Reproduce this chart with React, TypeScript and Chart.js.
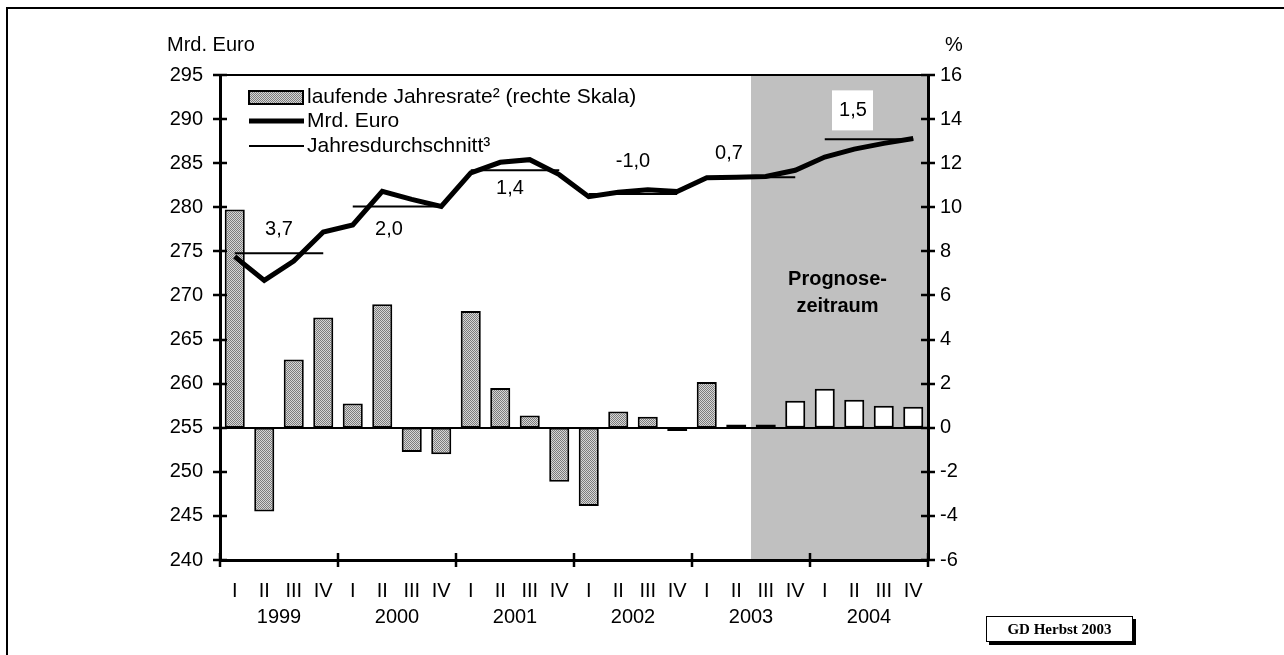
import React, { useEffect, useRef } from 'react';
import { Chart, registerables } from 'chart.js';

Chart.register(...registerables);

// ---------- data ----------
const years = ['1999', '2000', '2001', '2002', '2003', '2004'];
const quarters = ['I', 'II', 'III', 'IV'];
const categories = years.flatMap((y) => quarters.map((q) => `${q} ${y}`));
const quarterLabels = years.flatMap(() => quarters);

// laufende Jahresrate (%), right scale
const jahresrate = [
  9.9, -3.8, 3.1, 5.0,
  1.1, 5.6, -1.1, -1.2,
  5.3, 1.8, 0.55, -2.45,
  -3.55, 0.74, 0.5, -0.15,
  2.07, 0.15, 0.15, 1.22,
  1.77, 1.27, 1.0, 0.95,
];

// Mrd. Euro, left scale
const mrdEuro = [
  274.4, 271.7, 273.9, 277.2,
  278.0, 281.8, 280.9, 280.1,
  283.9, 285.1, 285.4, 283.7,
  281.2, 281.7, 282.0, 281.8,
  283.35, 283.4, 283.5, 284.2,
  285.7, 286.6, 287.25, 287.8,
];

// Jahresdurchschnitt (Mrd. Euro) per year
const jahresdurchschnitt = [274.8, 280.1, 284.2, 281.5, 283.4, 287.7];
// year-over-year change labels
const veraenderung = ['3,7', '2,0', '1,4', '-1,0', '0,7', '1,5'];

const leftTicks = { min: 240, max: 295, step: 5 };
const rightTicks = { min: -6, max: 16, step: 2 };

const forecastStart = categories.indexOf('III 2003');

const legendLabels = ['laufende Jahresrate² (rechte Skala)', 'Mrd. Euro', 'Jahresdurchschnitt³'];

// ---------- layout / style (not data) ----------
const FONT = "'Liberation Sans', Arial, sans-serif";
const labelOffsets = [
  [0, -24],
  [-8, 23],
  [-5, 18],
  [0, -33],
  [-22, -24],
  [-16, -29],
];

function makePattern(ctx: CanvasRenderingContext2D) {
  const c = document.createElement('canvas');
  c.width = 2;
  c.height = 2;
  const p = c.getContext('2d')!;
  p.fillStyle = '#d6d6d6';
  p.fillRect(0, 0, 2, 2);
  p.fillStyle = '#7c7c7c';
  p.fillRect(0, 0, 1, 1);
  p.fillRect(1, 1, 1, 1);
  return ctx.createPattern(c, 'repeat')!;
}

export default function App() {
  const ref = useRef<HTMLCanvasElement | null>(null);

  useEffect(() => {
    const canvas = ref.current!;
    const ctx0 = canvas.getContext('2d')!;
    const pattern = makePattern(ctx0);

    Chart.defaults.font.family = FONT;
    Chart.defaults.font.size = 20;
    Chart.defaults.color = '#000';

    const overlay = {
      id: 'overlay',
      beforeDraw(chart: any) {
        const { ctx, chartArea: ca, scales } = chart;
        const cw = (ca.right - ca.left) / categories.length;
        const sx = scales.x.getPixelForValue(forecastStart) - cw / 2;
        ctx.save();
        ctx.fillStyle = '#c0c0c0';
        ctx.fillRect(sx, ca.top, ca.right - sx, ca.bottom - ca.top);
        ctx.restore();
      },
      afterDatasetsDraw(chart: any) {
        const { ctx, chartArea: ca, scales } = chart;
        const y1 = scales.y1;
        const y = scales.y;
        const cw = (ca.right - ca.left) / categories.length;
        ctx.save();
        // zero line
        const zy = Math.round(y1.getPixelForValue(0));
        ctx.strokeStyle = '#000';
        ctx.lineWidth = 2;
        ctx.beginPath();
        ctx.moveTo(ca.left, zy);
        ctx.lineTo(ca.right, zy);
        ctx.stroke();

        // annual change labels
        ctx.font = `20px ${FONT}`;
        ctx.textAlign = 'center';
        ctx.textBaseline = 'middle';
        veraenderung.forEach((t, k) => {
          const cx = ca.left + (4 * k + 2) * cw + labelOffsets[k][0];
          const cy = y.getPixelForValue(jahresdurchschnitt[k]) + labelOffsets[k][1];
          if (k >= Math.floor(forecastStart / 4) + 1) {
            ctx.fillStyle = '#fff';
            ctx.fillRect(cx - 21, cy - 20, 41, 40);
          }
          ctx.fillStyle = '#000';
          ctx.fillText(t, cx, cy);
        });

        // Prognosezeitraum
        const fx = (scales.x.getPixelForValue(forecastStart) - cw / 2 + ca.right) / 2 - 2;
        ctx.font = `bold 20px ${FONT}`;
        ctx.fillText('Prognose-', fx, 279);
        ctx.fillText('zeitraum', fx, 306);

        // legend
        const lx = ca.left + 29;
        const lw = 54;
        const rows = [97, 121, 146];
        ctx.fillStyle = pattern;
        ctx.fillRect(lx, rows[0] - 6, lw, 13);
        ctx.lineWidth = 2;
        ctx.strokeRect(lx, rows[0] - 6, lw, 13);
        ctx.lineWidth = 5;
        ctx.beginPath();
        ctx.moveTo(lx, rows[1]);
        ctx.lineTo(lx + lw + 1, rows[1]);
        ctx.stroke();
        ctx.lineWidth = 2;
        ctx.beginPath();
        ctx.moveTo(lx, rows[2]);
        ctx.lineTo(lx + lw + 1, rows[2]);
        ctx.stroke();
        ctx.fillStyle = '#000';
        ctx.font = `21px ${FONT}`;
        ctx.textAlign = 'left';
        legendLabels.forEach((t, i) => ctx.fillText(t, lx + lw + 4, rows[i]));
        ctx.restore();
      },
      afterDraw(chart: any) {
        const { ctx, chartArea: ca, scales } = chart;
        const cw = (ca.right - ca.left) / categories.length;
        ctx.save();
        ctx.strokeStyle = '#000';
        // top border of plot
        ctx.lineWidth = 2;
        ctx.beginPath();
        ctx.moveTo(ca.left, ca.top);
        ctx.lineTo(ca.right, ca.top);
        ctx.stroke();
        // cross ticks
        ctx.lineWidth = 2.5;
        ctx.beginPath();
        scales.y.ticks.forEach((t: any) => {
          const py = Math.round(scales.y.getPixelForValue(t.value));
          ctx.moveTo(ca.left - 7, py);
          ctx.lineTo(ca.left + 7, py);
        });
        scales.y1.ticks.forEach((t: any) => {
          const py = Math.round(scales.y1.getPixelForValue(t.value));
          ctx.moveTo(ca.right - 7, py);
          ctx.lineTo(ca.right + 7, py);
        });
        for (let i = 0; i <= categories.length; i += 4) {
          const px = Math.round(ca.left + i * cw);
          ctx.moveTo(px, ca.bottom - 7);
          ctx.lineTo(px, ca.bottom + 7);
        }
        ctx.stroke();
        // year labels
        ctx.fillStyle = '#000';
        ctx.font = `20px ${FONT}`;
        ctx.textAlign = 'center';
        ctx.textBaseline = 'middle';
        years.forEach((yr, k) => {
          ctx.fillText(yr, ca.left + (4 * k + 2) * cw, 617);
        });
        // axis titles
        ctx.textAlign = 'left';
        ctx.fillText('Mrd. Euro', 167, 45);
        ctx.fillText('%', 945, 45);
        ctx.restore();
      },
    };

    const avgDatasets = years.map((yr, k) => ({
      type: 'line' as const,
      label: `Jahresdurchschnitt ${yr}`,
      data: categories.map((_, i) => (Math.floor(i / 4) === k ? jahresdurchschnitt[k] : null)),
      yAxisID: 'y',
      borderColor: '#000',
      borderWidth: 2,
      pointRadius: 0,
      tension: 0,
      order: 1,
    }));

    const chart = new Chart(canvas, {
      type: 'bar',
      data: {
        labels: quarterLabels,
        datasets: [
          {
            type: 'line',
            label: 'Mrd. Euro',
            data: mrdEuro,
            yAxisID: 'y',
            borderColor: '#000',
            borderWidth: 5,
            pointRadius: 0,
            tension: 0,
            order: 0,
          } as any,
          ...avgDatasets,
          {
            type: 'bar',
            label: legendLabels[0],
            data: jahresrate,
            yAxisID: 'y1',
            backgroundColor: (c: any) => (c.dataIndex >= forecastStart ? '#ffffff' : pattern),
            borderColor: '#000',
            borderWidth: 2,
            borderSkipped: false,
            barPercentage: 0.68,
            categoryPercentage: 1,
            order: 2,
          } as any,
        ],
      },
      options: {
        responsive: false,
        maintainAspectRatio: false,
        animation: false,
        events: [],
        layout: { padding: { top: 75, left: 0, right: 0, bottom: 0 } },
        plugins: { legend: { display: false }, tooltip: { enabled: false }, title: { display: false } },
        scales: {
          x: {
            type: 'category',
            grid: { display: false, drawTicks: false },
            border: { display: true, color: '#000', width: 3 },
            ticks: { color: '#000', font: { size: 20, family: FONT }, padding: 19, maxRotation: 0, autoSkip: false },
            afterFit: (s: any) => {
              s.height = 95;
            },
          },
          y: {
            type: 'linear',
            position: 'left',
            min: leftTicks.min,
            max: leftTicks.max,
            grid: { display: false, drawTicks: false },
            border: { display: true, color: '#000', width: 3 },
            ticks: { stepSize: leftTicks.step, color: '#000', padding: 17, font: { size: 20, family: FONT }, callback: (v: any) => String(v) },
            afterFit: (s: any) => {
              s.width = 220;
            },
          },
          y1: {
            type: 'linear',
            position: 'right',
            min: rightTicks.min,
            max: rightTicks.max,
            grid: { display: false, drawTicks: false },
            border: { display: true, color: '#000', width: 3 },
            ticks: { stepSize: rightTicks.step, color: '#000', padding: 12, font: { size: 20, family: FONT }, callback: (v: any) => String(v) },
            afterFit: (s: any) => {
              s.width = 1284 - 928;
            },
          },
        },
      } as any,
      plugins: [overlay],
    });

    return () => chart.destroy();
  }, []);

  return (
    <div style={{ position: 'absolute', left: 0, top: 0, width: 1284, height: 655, background: '#fff', overflow: 'hidden' }}>
      <div
        style={{
          position: 'absolute',
          left: 6,
          top: 7,
          width: 1400,
          height: 800,
          borderLeft: '2px solid #000',
          borderTop: '2px solid #000',
        }}
      />
      <canvas ref={ref} width={1284} height={655} style={{ position: 'absolute', left: 0, top: 0 }} />
      <div
        style={{
          position: 'absolute',
          left: 986,
          top: 616,
          width: 145,
          height: 24,
          border: '1px solid #000',
          boxShadow: '3px 3px 0 #000',
          background: '#fff',
          fontFamily: "'Liberation Serif', 'Times New Roman', serif",
          fontWeight: 'bold',
          fontSize: 15,
          lineHeight: '24px',
          textAlign: 'center',
          color: '#000',
        }}
      >
        GD Herbst 2003
      </div>
    </div>
  );
}
